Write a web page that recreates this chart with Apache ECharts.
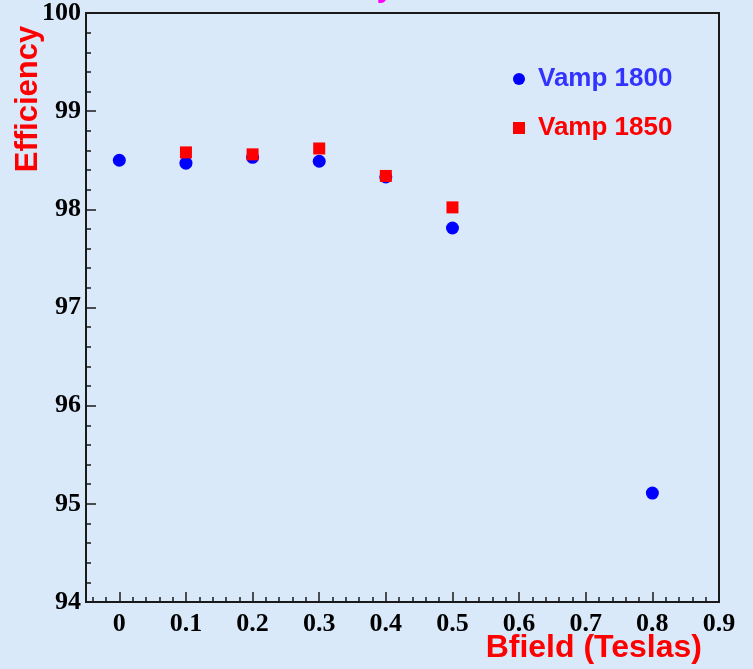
<!DOCTYPE html>
<html>
<head>
<meta charset="utf-8">
<style>
  html, body { margin: 0; padding: 0; background: #d9e9fa; }
  #chart { width: 753px; height: 669px; }
</style>
<script src="https://cdn.jsdelivr.net/npm/echarts@6/dist/echarts.min.js"></script>
</head>
<body>
<div id="chart"></div>
<script>
// Magnetic field values (Teslas) for each measurement
const bfield1800 = [0, 0.1, 0.2, 0.3, 0.4, 0.5, 0.8];
const eff1800 = [98.50, 98.47, 98.53, 98.49, 98.33, 97.81, 95.11];

const bfield1850 = [0.1, 0.2, 0.3, 0.4, 0.5];
const eff1850 = [98.58, 98.56, 98.62, 98.34, 98.02];

const xMajorTicks = [0, 0.1, 0.2, 0.3, 0.4, 0.5, 0.6, 0.7, 0.8, 0.9];
const xMinorTicks = [-0.04, -0.02, 0.02, 0.04, 0.06, 0.08, 0.12, 0.14, 0.16, 0.18,
  0.22, 0.24, 0.26, 0.28, 0.32, 0.34, 0.36, 0.38, 0.42, 0.44, 0.46, 0.48,
  0.52, 0.54, 0.56, 0.58, 0.62, 0.64, 0.66, 0.68, 0.72, 0.74, 0.76, 0.78,
  0.82, 0.84, 0.86, 0.88];

const pairs = (xs, ys) => xs.map((x, i) => [x, ys[i]]);

const tickFont = { fontFamily: 'Liberation Serif', fontWeight: 'bold', fontSize: 26, color: '#000' };
const axisColor = '#1a1a1a';

const chart = echarts.init(document.getElementById('chart'), null, { renderer: 'canvas' });
chart.setOption({
  backgroundColor: '#d9e9fa',
  animation: false,
  grid: {
    left: 86, top: 13, right: 34, bottom: 67,
    show: true, borderColor: axisColor, borderWidth: 2, backgroundColor: 'transparent'
  },
  xAxis: [{
    type: 'value', min: -0.05, max: 0.9,
    axisLine: { show: true, onZero: false, lineStyle: { color: axisColor, width: 2 } },
    axisTick: { show: true, inside: true, length: 10, lineStyle: { color: axisColor, width: 1.5 }, customValues: xMajorTicks },
    axisLabel: Object.assign({ margin: 9, customValues: xMajorTicks, formatter: v => String(Math.round(v * 10) / 10) }, tickFont),
    splitLine: { show: false }
  }, {
    type: 'value', min: -0.05, max: 0.9, position: 'bottom',
    axisLine: { show: false },
    axisTick: { show: true, inside: true, length: 5, lineStyle: { color: axisColor, width: 1.5 }, customValues: xMinorTicks },
    axisLabel: { show: false },
    splitLine: { show: false }
  }],
  yAxis: {
    type: 'value', min: 94, max: 100, interval: 1,
    axisLine: { show: true, onZero: false, lineStyle: { color: axisColor, width: 2 } },
    axisTick: { show: true, inside: true, length: 10, lineStyle: { color: axisColor, width: 1.5 } },
    minorTick: { show: true, splitNumber: 5, length: 5, lineStyle: { color: axisColor, width: 1.5 } },
    axisLabel: Object.assign({ margin: 5 }, tickFont),
    splitLine: { show: false }
  },
  legend: {
    orient: 'vertical', left: 508, top: 59, itemWidth: 12, itemHeight: 12, itemGap: 19,
    textStyle: { fontFamily: 'Liberation Sans', fontWeight: 'bold', fontSize: 26, lineHeight: 30, padding: [0, 0, 0, 8] },
    data: [
      { name: 'Vamp 1800', icon: 'circle', textStyle: { color: '#3333ff' } },
      { name: 'Vamp 1850', icon: 'rect', textStyle: { color: '#ff0000' } }
    ]
  },
  series: [{
    name: 'Vamp 1800', type: 'scatter', symbol: 'circle', symbolSize: 13,
    itemStyle: { color: '#0000ff', opacity: 1 }, z: 2,
    data: pairs(bfield1800, eff1800)
  }, {
    name: 'Vamp 1850', type: 'scatter', symbol: 'rect', symbolSize: 12,
    itemStyle: { color: '#ff0000', opacity: 1 }, z: 3,
    data: pairs(bfield1850, eff1850)
  }],
  graphic: [{
    type: 'text', rotation: Math.PI / 2, x: 28, y: 99,
    style: { text: 'Efficiency', fill: '#ff0000', font: 'bold 31px "Liberation Sans"', align: 'center', verticalAlign: 'middle' }
  }, {
    type: 'text', x: 702, y: 648,
    style: { text: 'Bfield (Teslas)', fill: '#ff0000', font: 'bold 32px "Liberation Sans"', align: 'right', verticalAlign: 'middle' }
  }, {
    type: 'text', x: 385, y: 4,
    style: { text: 'y', fill: '#ff00ff', font: 'bold 30px "Liberation Sans"', align: 'center', verticalAlign: 'bottom' }
  }]
});
</script>
</body>
</html>
